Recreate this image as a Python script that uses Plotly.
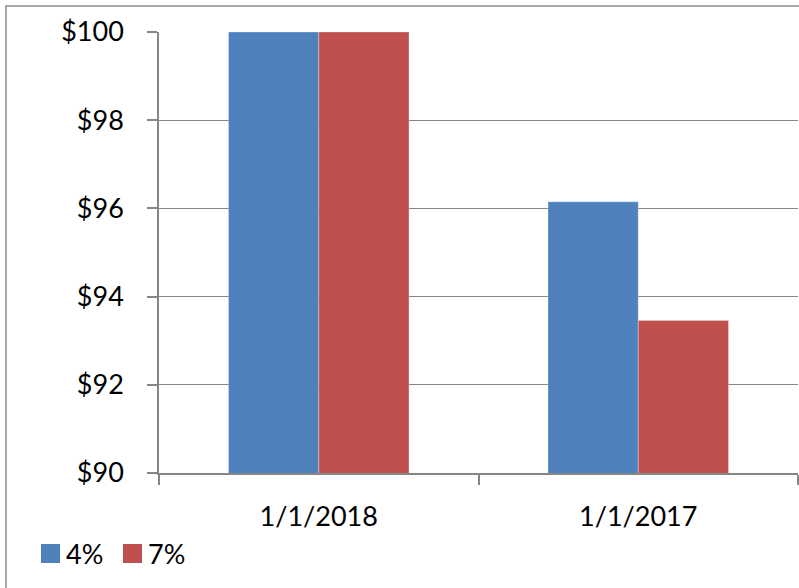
import plotly.graph_objects as go

categories = ["1/1/2018", "1/1/2017"]
series_names = ["4%", "7%"]
values_4 = [100.0, 96.15]
values_7 = [100.0, 93.46]
colors = ["#4F81BD", "#C0504D"]
y_ticks = [90, 92, 94, 96, 98, 100]
y_tick_labels = ["$90", "$92", "$94", "$96", "$98", "$100"]

FONT = "Lato, Carlito, Calibri, sans-serif"
FS = 27

fig = go.Figure()
for name, vals, col in zip(series_names, [values_4, values_7], colors):
    fig.add_trace(go.Bar(x=categories, y=vals, name=name, marker_color=col,
                         marker_line_width=0.5, marker_line_color="rgba(255,255,255,0.6)",
                         showlegend=False, hoverinfo="skip"))

W, H = 799, 588
L, R, T, B = 159, 1, 32, 115
pw, ph = W - L - R, H - T - B

def px_x(p):
    return (p - L) / pw

def px_y(p):
    return (H - B - p) / ph

shapes = [
    dict(type="rect", xref="paper", yref="paper", x0=px_x(6), x1=px_x(805),
         y0=px_y(600), y1=px_y(6), line=dict(color="#8C8C8C", width=1.5), layer="below"),
]
annotations = []
lx = 41
for name, col in zip(series_names, colors):
    shapes.append(dict(type="rect", xref="paper", yref="paper", x0=px_x(lx), x1=px_x(lx + 19),
                       y0=px_y(563), y1=px_y(544), fillcolor=col, line=dict(width=0)))
    annotations.append(dict(xref="paper", yref="paper", x=px_x(lx + 23), y=px_y(553.5),
                            xanchor="left", yanchor="middle", text=name, showarrow=False,
                            font=dict(family=FONT, size=FS, color="black")))
    lx += 82

fig.update_layout(
    width=W, height=H,
    margin=dict(l=L, r=R, t=T, b=B),
    paper_bgcolor="white", plot_bgcolor="white",
    barmode="group", bargap=0.435, bargroupgap=0,
    font=dict(family=FONT, size=FS, color="black"),
    shapes=shapes, annotations=annotations,
)
fig.update_xaxes(type="category", showline=True, linecolor="#868686", linewidth=1.5,
                 ticks="outside", tickson="boundaries", ticklen=10, tickcolor="#868686",
                 tickwidth=1.5, ticklabelstandoff=19, showgrid=False)
fig.update_yaxes(range=[90, 100], tickvals=y_ticks, ticktext=y_tick_labels, showline=True,
                 linecolor="#868686", linewidth=1.5, ticks="outside", ticklen=10,
                 tickcolor="#868686", tickwidth=1.5, gridcolor="#868686", gridwidth=1,
                 zeroline=False, ticklabelstandoff=18)

fig.write_html("out.html", config={"displayModeBar": False},
               post_script="document.body.style.margin='0';document.body.style.overflow='hidden';")
